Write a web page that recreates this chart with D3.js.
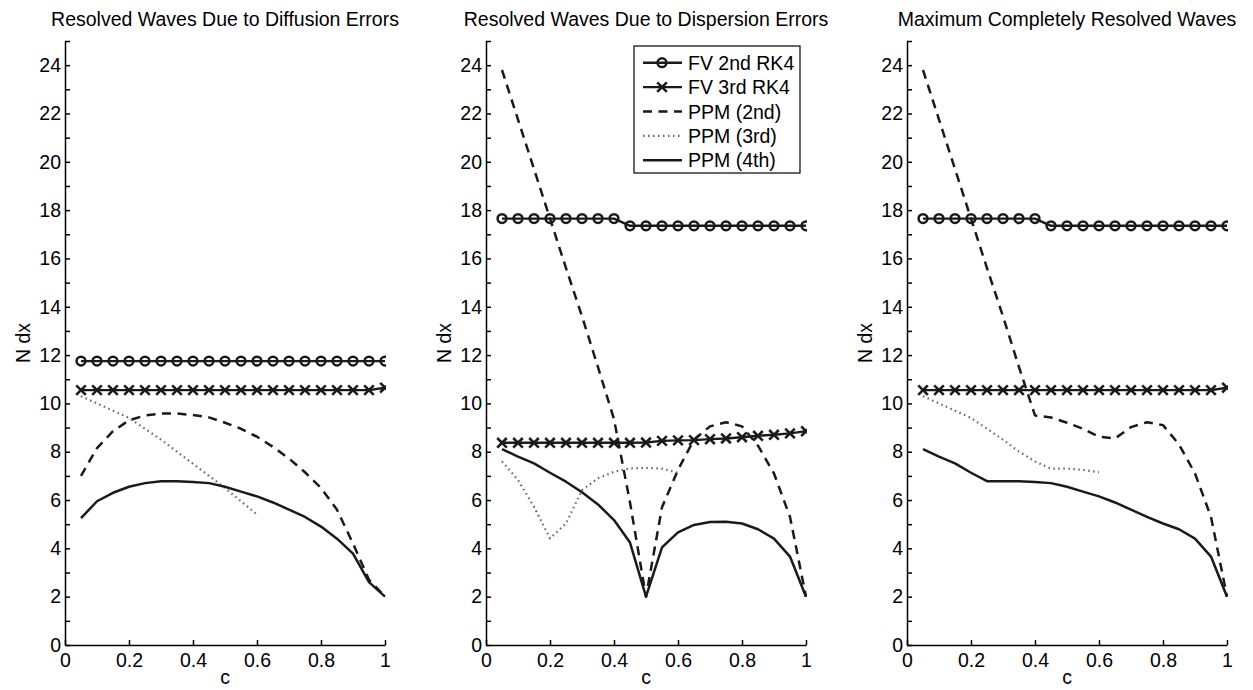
<!DOCTYPE html>
<html>
<head>
<meta charset="utf-8">
<script src="https://cdn.jsdelivr.net/npm/d3@7"></script>
<style>
  body { margin: 0; background: #fff; }
  svg { display: block; font-family: "Liberation Sans", Arial, Helvetica, sans-serif; }
  .axis path, .axis line { stroke: #000; stroke-width: 1.5; }
  .axis text { font-size: 19.5px; fill: #000; font-family: "Liberation Sans", Arial, sans-serif; }
</style>
</head>
<body>
<svg id="draw" width="1253" height="690"></svg>
<script>
// Courant numbers (x positions of every sample)
let cVals = [0.05, 0.10, 0.15, 0.20, 0.25, 0.30, 0.35, 0.40, 0.45, 0.50,
             0.55, 0.60, 0.65, 0.70, 0.75, 0.80, 0.85, 0.90, 0.95, 1.00];
let cShort = [0.05, 0.10, 0.15, 0.20, 0.25, 0.30, 0.35, 0.40, 0.45, 0.50, 0.55, 0.60];

let titles = ["Resolved Waves Due to Diffusion Errors",
              "Resolved Waves Due to Dispersion Errors",
              "Maximum Completely Resolved Waves"];
let seriesNames = ["FV 2nd RK4", "FV 3rd RK4", "PPM (2nd)", "PPM (3rd)", "PPM (4th)"];
let xTicks = [0, 0.2, 0.4, 0.6, 0.8, 1];

// diffusion
let diffFv2 = [11.75, 11.75, 11.75, 11.75, 11.75, 11.75, 11.75, 11.75, 11.75, 11.75,
               11.75, 11.75, 11.75, 11.75, 11.75, 11.75, 11.75, 11.75, 11.75, 11.75];
let diffFv3 = [10.55, 10.55, 10.55, 10.55, 10.55, 10.55, 10.55, 10.55, 10.55, 10.55,
               10.55, 10.55, 10.55, 10.55, 10.55, 10.55, 10.55, 10.55, 10.55, 10.65];
let diffPpm2 = [7.0, 8.15, 8.85, 9.3, 9.5, 9.58, 9.58, 9.52, 9.42, 9.2,
                8.95, 8.62, 8.2, 7.72, 7.15, 6.5, 5.6, 4.2, 2.7, 2.0];
let diffPpm3 = [10.3, 10.0, 9.7, 9.4, 8.95, 8.5, 8.0, 7.5, 7.0, 6.5, 5.95, 5.4];
let diffPpm4 = [5.25, 5.95, 6.3, 6.55, 6.7, 6.78, 6.78, 6.75, 6.7, 6.55,
                6.35, 6.15, 5.9, 5.6, 5.3, 4.9, 4.4, 3.78, 2.6, 2.0];

// dispersion
let dispFv2 = [17.65, 17.65, 17.65, 17.65, 17.65, 17.65, 17.65, 17.65, 17.35, 17.35,
               17.35, 17.35, 17.35, 17.35, 17.35, 17.35, 17.35, 17.35, 17.35, 17.35];
let dispFv3 = [8.37, 8.37, 8.37, 8.37, 8.37, 8.37, 8.37, 8.37, 8.37, 8.38,
               8.45, 8.47, 8.48, 8.52, 8.55, 8.6, 8.66, 8.7, 8.76, 8.85];
let dispPpm2 = [23.8, 21.75, 19.7, 17.65, 15.6, 13.6, 11.5, 9.35, 5.9, 2.0,
                5.7, 7.25, 8.5, 9.05, 9.22, 9.05, 8.25, 7.1, 5.3, 2.0];
let dispPpm3 = [7.6, 6.83, 5.72, 4.41, 5.03, 6.41, 6.9, 7.17, 7.31, 7.33, 7.3, 7.13];
let dispPpm4 = [8.11, 7.8, 7.52, 7.13, 6.76, 6.32, 5.82, 5.17, 4.24, 2.0,
                4.04, 4.66, 4.97, 5.09, 5.1, 5.03, 4.79, 4.4, 3.66, 2.0];

// maximum completely resolved
let maxFv2 = [17.65, 17.65, 17.65, 17.65, 17.65, 17.65, 17.65, 17.65, 17.35, 17.35,
              17.35, 17.35, 17.35, 17.35, 17.35, 17.35, 17.35, 17.35, 17.35, 17.35];
let maxFv3 = [10.55, 10.55, 10.55, 10.55, 10.55, 10.55, 10.55, 10.55, 10.55, 10.55,
              10.55, 10.55, 10.55, 10.55, 10.55, 10.55, 10.55, 10.55, 10.55, 10.65];
let maxPpm2 = [23.8, 21.75, 19.7, 17.65, 15.6, 13.6, 11.5, 9.5, 9.42, 9.2,
               8.95, 8.62, 8.55, 9.02, 9.22, 9.1, 8.3, 7.1, 5.3, 2.0];
let maxPpm3 = [10.3, 10.0, 9.7, 9.4, 8.95, 8.5, 8.0, 7.6, 7.3, 7.3, 7.25, 7.15];
let maxPpm4 = [8.11, 7.8, 7.52, 7.13, 6.78, 6.78, 6.78, 6.75, 6.7, 6.55,
               6.35, 6.15, 5.9, 5.6, 5.3, 5.03, 4.79, 4.4, 3.66, 2.0];

let panelData = [
    [diffFv2, diffFv3, diffPpm2, diffPpm3, diffPpm4],
    [dispFv2, dispFv3, dispPpm2, dispPpm3, dispPpm4],
    [maxFv2, maxFv3, maxPpm2, maxPpm3, maxPpm4]
];

let styles = [
    { marker: "o", dash: null, color: "#1a1a1a", width: 2.4 },
    { marker: "x", dash: null, color: "#1a1a1a", width: 2.4 },
    { marker: null, dash: "9,6.5", color: "#1a1a1a", width: 2.5 },
    { marker: null, dash: "1.5,3.5", color: "#666", width: 2.2 },
    { marker: null, dash: null, color: "#1a1a1a", width: 2.5 }
];

let svg = d3.select("#draw");
let panelLefts = [65, 486, 907], panelW = 320, plotTop = 41, plotBottom = 645;

function drawMarker(g, kind, px, py, color) {
    if(kind === "o")
        g.append("circle").attr("cx", px).attr("cy", py).attr("r", 4.4)
            .attr("fill", "none").attr("stroke", color).attr("stroke-width", 2.5);
    else if(kind === "x")
        g.append("path")
            .attr("d", `M${px-4.8},${py-4.8}L${px+4.8},${py+4.8}M${px-4.8},${py+4.8}L${px+4.8},${py-4.8}`)
            .attr("stroke", color).attr("stroke-width", 2.6).attr("fill", "none");
}

function drawPanel(i) {
    let left = panelLefts[i];
    let x = d3.scaleLinear().domain([0, 1]).range([left, left + panelW]);
    let y = d3.scaleLinear().domain([0, 25]).range([plotBottom, plotTop]);

    svg.append("defs").append("clipPath").attr("id", "clip" + i)
        .append("rect").attr("x", left - 20).attr("y", 0)
        .attr("width", panelW + 21).attr("height", plotBottom + 10);

    let plot = svg.append("g").attr("clip-path", `url(#clip${i})`);
    panelData[i].forEach((vals, s) => {
        let st = styles[s];
        let xs = vals.length === cVals.length ? cVals : cShort;
        let pts = vals.map((v, k) => [xs[k], v]);
        let line = d3.line().x(d => x(d[0])).y(d => y(d[1]));
        plot.append("path")
            .attr("d", line(pts))
            .attr("fill", "none")
            .attr("stroke", st.color)
            .attr("stroke-width", st.width)
            .attr("stroke-linejoin", "round")
            .attr("stroke-dasharray", st.dash);
        if(st.marker)
            pts.forEach(p => drawMarker(plot, st.marker, x(p[0]), y(p[1]), st.color));
    });

    svg.append("g").attr("class", "axis")
        .attr("transform", `translate(0,${plotBottom})`)
        .call(d3.axisBottom(x).tickValues(xTicks).tickSizeInner(-5).tickSizeOuter(0)
            .tickPadding(8).tickFormat(d3.format("~g")));
    svg.append("g").attr("class", "axis")
        .attr("transform", `translate(${left},0)`)
        .call(d3.axisLeft(y).tickValues(d3.range(0, 26)).tickSizeInner(-5).tickSizeOuter(0)
            .tickPadding(4).tickFormat(d => d % 2 === 0 ? d : ""));

    svg.append("text")
        .attr("x", left + panelW / 2).attr("y", 26)
        .attr("text-anchor", "middle").attr("font-size", "19.5px")
        .text(titles[i]);
    svg.append("text")
        .attr("x", left + panelW / 2).attr("y", 684)
        .attr("text-anchor", "middle").attr("font-size", "19.5px")
        .text("c");
    svg.append("text")
        .attr("transform", `translate(${left - 42},343) rotate(-90)`)
        .attr("dy", "0.35em")
        .attr("text-anchor", "middle").attr("font-size", "19.5px")
        .text("N dx");
}

function drawLegend() {
    let lg = svg.append("g");
    lg.append("rect").attr("x", 634).attr("y", 46).attr("width", 166).attr("height", 127)
        .attr("fill", "#fff").attr("stroke", "#000").attr("stroke-width", 1.2);
    seriesNames.forEach((name, s) => {
        let st = styles[s], ry = 62.7 + s * 24.4;
        lg.append("line").attr("x1", 643).attr("x2", 682).attr("y1", ry).attr("y2", ry)
            .attr("stroke", st.color).attr("stroke-width", st.width)
            .attr("stroke-dasharray", st.dash);
        if(st.marker) drawMarker(lg, st.marker, 662, ry, st.color);
        lg.append("text").attr("x", 688).attr("y", ry).attr("dy", "0.36em")
            .attr("font-size", "19.5px").text(name);
    });
}

[0, 1, 2].forEach(drawPanel);
drawLegend();
</script>
</body>
</html>
